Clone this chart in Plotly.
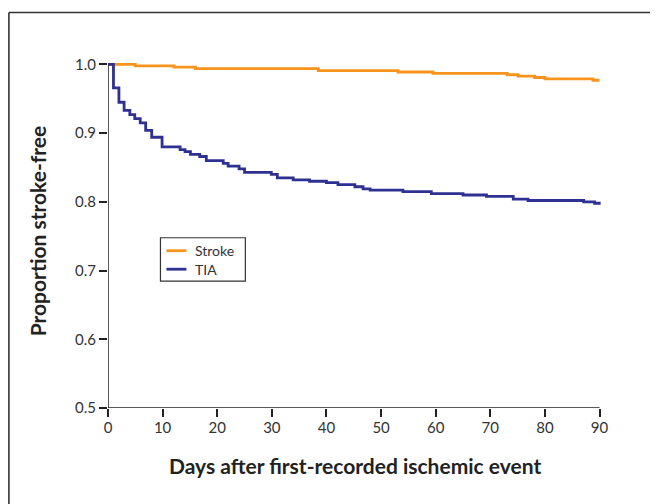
import plotly.graph_objects as go

# Kaplan-Meier style step data (days, proportion stroke-free)
stroke_days = [0, 5, 12.1, 16, 38.5, 53.1, 59.5, 73.1, 75.1, 78.1, 80, 88.8, 90]
stroke_vals = [1.000, 0.998, 0.996, 0.994, 0.991, 0.989, 0.987, 0.985, 0.983, 0.981, 0.979, 0.977, 0.977]

tia_days = [0, 1, 2, 2.95, 4, 4.9, 5.9, 6.9, 8, 9.9, 13.2, 14.1, 15.1, 16.8, 18, 21.1, 22,
            24, 25, 29.9, 31, 33.9, 36.9, 40, 42.1, 45.2, 46.7, 48, 54, 59.2, 65, 69.3,
            74.2, 76.9, 87.1, 89.1, 90.2]
tia_vals = [1.000, 0.966, 0.945, 0.933, 0.927, 0.921, 0.915, 0.904, 0.894, 0.880, 0.876,
            0.873, 0.869, 0.866, 0.860, 0.856, 0.852, 0.848, 0.843, 0.840, 0.835, 0.832,
            0.830, 0.828, 0.825, 0.822, 0.819, 0.817, 0.815, 0.812, 0.810, 0.808, 0.804,
            0.802, 0.800, 0.798, 0.798]

series_names = ["Stroke", "TIA"]

x_ticks = [0, 10, 20, 30, 40, 50, 60, 70, 80, 90]
y_ticks = [0.5, 0.6, 0.7, 0.8, 0.9, 1.0]
y_tick_text = ["0.5", "0.6", "0.7", "0.8", "0.9", "1.0"]

ORANGE = "#F7941D"
NAVY = "#2E3192"
FONT = "Lato"

# page has an 8px body margin; work in page pixels and shift
OFF = 8
W, H = 650, 496
L, R, T, B = 108 - OFF, 52.5, 60.5 - OFF, 96

fig = go.Figure()
fig.add_trace(go.Scatter(x=stroke_days, y=stroke_vals, mode="lines", name=series_names[0],
                         line=dict(color=ORANGE, width=2.8, shape="hv")))
fig.add_trace(go.Scatter(x=tia_days, y=tia_vals, mode="lines", name=series_names[1],
                         line=dict(color=NAVY, width=2.8, shape="hv")))

pw, ph = W - L - R, H - T - B
def px(xp):
    return (xp - OFF - L) / pw
def py(yp):
    return (H - B - (yp - OFF)) / ph

fig.update_layout(
    width=W, height=H,
    margin=dict(l=L, r=R, t=T, b=B, pad=0),
    paper_bgcolor="white", plot_bgcolor="white",
    font=dict(family=FONT, color="#333333", size=15),
    showlegend=False,
    xaxis=dict(range=[0, 91], tickvals=x_ticks, ticks="outside", ticklen=8,
               tickwidth=1.5, tickcolor="#222222", showline=False, showgrid=False,
               zeroline=False, ticklabelstandoff=-2,
               tickfont=dict(size=15, color="#333333")),
    yaxis=dict(range=[0.5, 1.005], tickvals=y_ticks, ticktext=y_tick_text,
               ticks="outside", ticklen=8, tickwidth=1.5, tickcolor="#222222",
               showline=False, showgrid=False, zeroline=False,
               tickfont=dict(size=15, color="#333333")),
)

# axis lines
fig.add_shape(type="line", xref="x", yref="y", x0=0, x1=0, y0=0.5, y1=1.0,
              line=dict(color="#222222", width=1.5))
fig.add_shape(type="line", xref="x", yref="y", x0=0, x1=90, y0=0.5, y1=0.5,
              line=dict(color="#222222", width=1.5))

# outer frame (top and left edges visible)
fig.add_shape(type="line", xref="paper", yref="paper", x0=px(8.8), x1=px(700),
              y0=py(12), y1=py(12), line=dict(color="#333333", width=1.6))
fig.add_shape(type="line", xref="paper", yref="paper", x0=px(8.8), x1=px(8.8),
              y0=py(12), y1=py(560), line=dict(color="#333333", width=1.6))

# legend box (drawn manually for exact layout)
fig.add_shape(type="rect", xref="paper", yref="paper", x0=px(160.5), x1=px(245.5),
              y0=py(237.5), y1=py(281), line=dict(color="#333333", width=1.2),
              fillcolor="white", layer="above")
for i, (name, col) in enumerate(zip(series_names, [ORANGE, NAVY])):
    yy = 250.5 + 18.5 * i
    fig.add_shape(type="line", xref="paper", yref="paper", x0=px(166.5), x1=px(186.5),
                  y0=py(yy), y1=py(yy), line=dict(color=col, width=2.8), layer="above")
    fig.add_annotation(text=name, xref="paper", yref="paper", x=px(194), y=py(yy),
                       xanchor="left", yanchor="middle", showarrow=False, borderpad=0,
                       font=dict(family=FONT, size=14, color="#333333"))

# axis titles
fig.add_annotation(text="<b>Days after first-recorded ischemic event</b>", xref="paper",
                   yref="paper", x=px(355), y=py(466), xanchor="center", yanchor="middle",
                   showarrow=False, font=dict(family=FONT, size=21, color="#222222"))
fig.add_annotation(text="<b>Proportion stroke-free</b>", xref="paper", yref="paper",
                   x=px(37), y=py(231), xanchor="center", yanchor="middle",
                   showarrow=False, textangle=-90,
                   font=dict(family=FONT, size=21, color="#222222"))

fig.write_html("out.html")
